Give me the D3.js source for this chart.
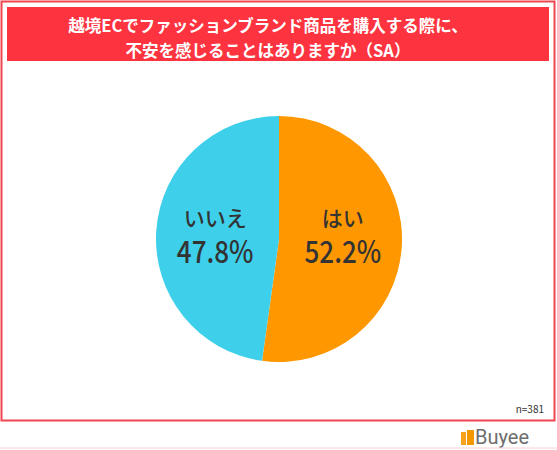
<!DOCTYPE html>
<html>
<head>
<meta charset="utf-8">
<script src="https://cdn.jsdelivr.net/npm/d3@7"></script>
<style>
  body { margin: 0; background: #fff; }
  svg { display: block; font-family: "Noto Sans CJK JP", "Noto Sans", sans-serif; }
</style>
</head>
<body>
<svg id="chart"></svg>
<script>
const WIDTH = 557;
const HEIGHT = 450;

// chart data
const titleLines = ['越境ECでファッションブランド商品を購入する際に、', '不安を感じることはありますか（SA）'];
const categories = ['はい', 'いいえ'];
const values = [52.2, 47.8];
const colors = ['#ff9800', '#3ecfea'];
const sampleNote = 'n=381';

const svg = d3.select('#chart')
  .attr('width', WIDTH)
  .attr('height', HEIGHT);

// outer frame
svg.append('rect')
  .attr('x', 1.5).attr('y', 1.5)
  .attr('width', 553).attr('height', 419)
  .attr('fill', 'none')
  .attr('stroke', '#ee4650')
  .attr('stroke-width', 2);

// title band
svg.append('rect')
  .attr('x', 7).attr('y', 7)
  .attr('width', 542).attr('height', 54)
  .attr('fill', '#fd3340');

svg.append('g')
  .selectAll('text')
  .data(titleLines)
  .join('text')
  .attr('x', 268)
  .attr('y', (d, i) => 25 + i * 25)
  .attr('text-anchor', 'middle')
  .attr('dominant-baseline', 'central')
  .attr('fill', '#fff')
  .attr('font-size', 16.5)
  .attr('font-weight', 'bold')
  .text(d => d);

// pie
const cx = 279, cy = 239, radius = 123;
const pie = d3.pie().sort(null).value(d => d.value);
const arcs = pie(categories.map((c, i) => ({ name: c, value: values[i], color: colors[i] })));
const arc = d3.arc().innerRadius(0).outerRadius(radius);
const labelArc = d3.arc().innerRadius(64).outerRadius(64);

const g = svg.append('g').attr('transform', `translate(${cx},${cy})`);

g.selectAll('path')
  .data(arcs)
  .join('path')
  .attr('d', arc)
  .attr('fill', d => d.data.color);

// labels sit on one row, x from the slice centroid
const labels = g.selectAll('g.label')
  .data(arcs)
  .join('g')
  .attr('class', 'label')
  .attr('transform', d => `translate(${labelArc.centroid(d)[0]},0)`);

labels.append('text')
  .attr('y', -22)
  .attr('text-anchor', 'middle')
  .attr('dominant-baseline', 'central')
  .attr('fill', '#333')
  .attr('font-size', 21)
  .attr('font-weight', 500)
  .text(d => d.data.name);

labels.append('text')
  .attr('transform', 'translate(0,10) scale(0.84,1)')
  .attr('text-anchor', 'middle')
  .attr('dominant-baseline', 'central')
  .attr('fill', '#333')
  .attr('font-size', 31)
  .attr('font-weight', 500)
  .text(d => d3.format('.1f')(d.data.value) + '%');

// sample size
svg.append('text')
  .attr('x', 544).attr('y', 408)
  .attr('text-anchor', 'end')
  .attr('dominant-baseline', 'central')
  .attr('fill', '#333')
  .attr('font-size', 10)
  .text(sampleNote);

// logo
const logo = svg.append('g').attr('transform', 'translate(461,429)');
logo.append('rect').attr('x', 0).attr('y', 3).attr('width', 5).attr('height', 13).attr('fill', '#f7a21b');
logo.append('rect').attr('x', 6).attr('y', 1).attr('width', 7).attr('height', 15).attr('fill', '#f39800');
logo.append('text')
  .attr('x', 14).attr('y', 8)
  .attr('dominant-baseline', 'central')
  .attr('fill', '#6d6d6d')
  .attr('font-size', 20)
  .attr('font-family', 'Roboto, sans-serif')
  .text('Buyee');

svg.append('line')
  .attr('x1', 0).attr('x2', WIDTH)
  .attr('y1', 448).attr('y2', 448)
  .attr('stroke', '#f6d0d3')
  .attr('stroke-width', 1);
</script>
</body>
</html>
